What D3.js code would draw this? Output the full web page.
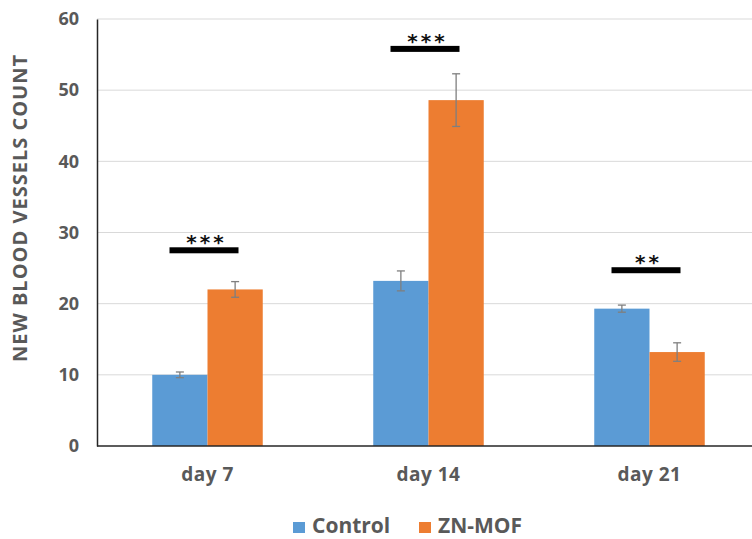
<!DOCTYPE html>
<html><head><meta charset="utf-8">
<script src="https://cdn.jsdelivr.net/npm/d3@7"></script>
<style>body{margin:0;background:#fff}svg{display:block}text{font-family:"Open Sans","Liberation Sans",sans-serif;font-weight:bold;fill:#595959}</style>
</head><body>
<svg id="c" width="752" height="539"></svg>
<script>
const categories = ["day 7", "day 14", "day 21"];
const seriesNames = ["Control", "ZN-MOF"];
const controlValues = [10.0, 23.2, 19.3];
const controlErrors = [0.4, 1.4, 0.5];
const mofValues = [22.0, 48.6, 13.2];
const mofErrors = [1.1, 3.7, 1.3];
const sigLabels = ["***", "***", "**"];
const sigLevels = [27.5, 55.8, 24.7];
const yTicks = [0, 10, 20, 30, 40, 50, 60];
const colors = ["#5B9BD5", "#ED7D31"];

const svg = d3.select("#c");
const mLeft = 97, mTop = 19, mBottom = 446, mRight = 760;
const y = d3.scaleLinear().domain([0, 60]).range([mBottom, mTop]);
const x = d3.scaleBand().domain(categories).range([mLeft, mRight]).paddingInner(0.5).paddingOuter(0.25);
const xs = d3.scaleBand().domain(seriesNames).range([0, x.bandwidth()]);

// grid
svg.append("g").selectAll("line").data(yTicks.filter(t => t > 0)).join("line")
  .attr("x1", mLeft).attr("x2", 752).attr("y1", d => y(d)).attr("y2", d => y(d))
  .attr("stroke", "#d9d9d9").attr("stroke-width", 1);

// y axis
const ya = svg.append("g").attr("transform", `translate(${mLeft},0)`)
  .call(d3.axisLeft(y).tickValues(yTicks).tickSize(0).tickPadding(18));
ya.select(".domain").attr("stroke", "#262626").attr("stroke-width", 1.5);
ya.selectAll("text").attr("font-size", 18).style("font-family", '"Open Sans",sans-serif').attr("fill", "#595959").attr("font-weight", "bold");

const series = [
  {name: seriesNames[0], vals: controlValues, errs: controlErrors, color: colors[0]},
  {name: seriesNames[1], vals: mofValues, errs: mofErrors, color: colors[1]}
];

series.forEach(s => {
  const g = svg.append("g");
  g.selectAll("rect").data(categories).join("rect")
    .attr("x", (c) => x(c) + xs(s.name))
    .attr("width", xs.bandwidth())
    .attr("y", (c, i) => y(s.vals[i]))
    .attr("height", (c, i) => y(0) - y(s.vals[i]))
    .attr("fill", s.color);
  const eb = svg.append("g").attr("stroke", "#7f7f7f").attr("stroke-width", 1.3);
  categories.forEach((c, i) => {
    const cx = x(c) + xs(s.name) + xs.bandwidth() / 2;
    const hi = y(s.vals[i] + s.errs[i]), lo = y(s.vals[i] - s.errs[i]);
    eb.append("line").attr("x1", cx).attr("x2", cx).attr("y1", hi).attr("y2", lo);
    eb.append("line").attr("x1", cx - 4).attr("x2", cx + 4).attr("y1", hi).attr("y2", hi);
    eb.append("line").attr("x1", cx - 4).attr("x2", cx + 4).attr("y1", lo).attr("y2", lo);
  });
});

// x axis
svg.append("line").attr("x1", mLeft).attr("x2", 752).attr("y1", y(0)).attr("y2", y(0))
  .attr("stroke", "#262626").attr("stroke-width", 1.5);
svg.append("g").selectAll("text").data(categories).join("text")
  .attr("x", c => x(c) + x.bandwidth() / 2).attr("y", 481)
  .attr("text-anchor", "middle").attr("font-size", 19).attr("letter-spacing", 0.5).text(c => c);

// significance
categories.forEach((c, i) => {
  const cx = x(c) + x.bandwidth() / 2 - 4;
  svg.append("rect").attr("x", cx - 34).attr("width", 69)
    .attr("y", y(sigLevels[i]) - 3).attr("height", 6).attr("fill", "#000");
  svg.append("text").attr("x", cx + 3).attr("y", y(sigLevels[i]) - 1)
    .attr("text-anchor", "middle").attr("font-size", 20).style("fill", "#111")
    .style("font-family", '"DejaVu Sans",sans-serif').attr("font-weight", "bold")
    .attr("letter-spacing", 3).text(sigLabels[i]);
});

// y title
svg.append("text").attr("transform", `translate(27,208) rotate(-90)`)
  .attr("text-anchor", "middle").attr("font-size", 20).attr("letter-spacing", 1).text("NEW BLOOD VESSELS COUNT");

// legend
const lg = svg.append("g");
const legendX = [293, 419];
series.forEach((s, i) => {
  lg.append("rect").attr("x", legendX[i]).attr("y", 522).attr("width", 12).attr("height", 11).attr("fill", s.color);
  lg.append("text").attr("x", legendX[i] + 19).attr("y", 533).attr("font-size", 21).text(s.name);
});
</script>
</body></html>
